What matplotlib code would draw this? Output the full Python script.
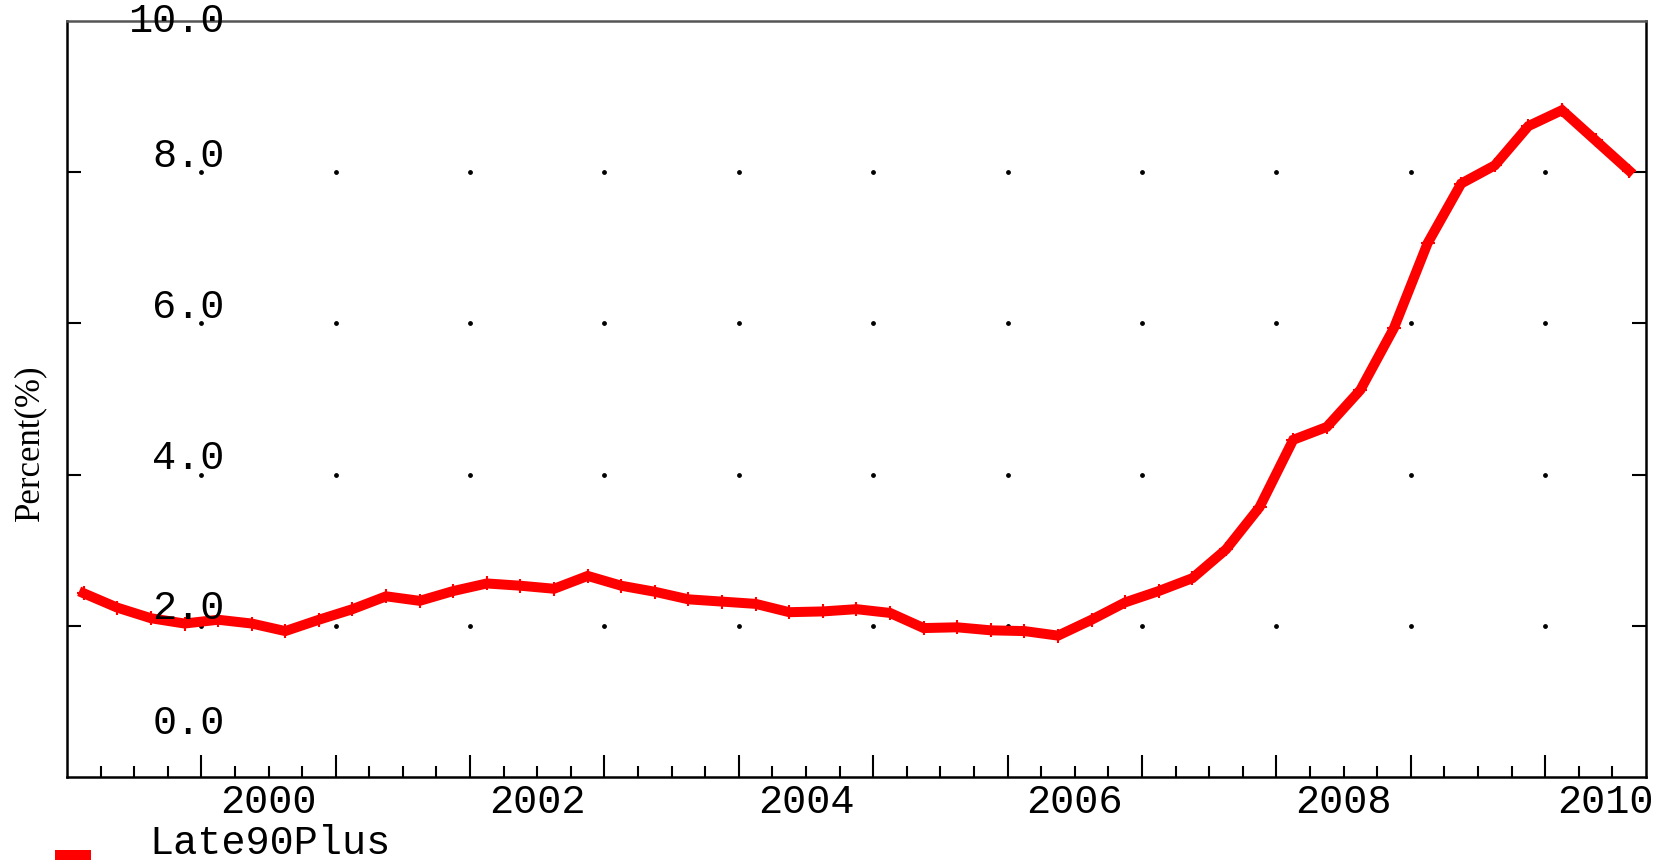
import numpy as np
import matplotlib
matplotlib.use("Agg")
import matplotlib.pyplot as plt
from matplotlib.lines import Line2D
import matplotlib.transforms as mtransforms

# quarterly series, 1999Q1 .. 2010Q3 (plotted at quarter midpoints)
start_year = 1999
late90 = [2.43, 2.24, 2.10, 2.03, 2.08, 2.03, 1.93, 2.08, 2.22, 2.39,
          2.33, 2.46, 2.56, 2.53, 2.49, 2.66, 2.53, 2.45, 2.35, 2.32,
          2.29, 2.18, 2.19, 2.22, 2.17, 1.97, 1.98, 1.94, 1.93, 1.87,
          2.08, 2.31, 2.46, 2.63, 3.01, 3.57, 4.46, 4.63, 5.12, 5.94,
          7.06, 7.85, 8.09, 8.61, 8.82, 8.42, 8.02]
series_name = "Late90Plus"
year_labels = [2000, 2002, 2004, 2006, 2008, 2010]
ytick_vals = [0.0, 2.0, 4.0, 6.0, 8.0, 10.0]
# baseline position of each y label (they sit a little above their ticks)
ylabel_base = [0.57, 2.09, 4.07, 6.07, 8.07, 9.85]

x = start_year + (np.arange(len(late90)) + 0.5) / 4.0

mono = "Liberation Mono"
fsize = 29

fig = plt.figure(figsize=(16.69, 8.64), dpi=100)
ax = fig.add_axes([0.0401, 0.1007, 0.9461, 0.875])

ax.plot(x, late90, color="red", lw=7.2, solid_joinstyle="miter",
        marker="+", ms=10, mew=1.5, zorder=3)

ax.set_xlim(1999.0, 2010.75)
ax.set_ylim(0, 10)

# ticks: years major, quarters minor, drawn inward at the bottom
ax.set_xticks(np.arange(2000, 2011))
ax.set_xticks(np.arange(1999.25, 2010.75, 0.25), minor=True)
ax.tick_params(axis="x", which="major", direction="in", length=16, width=1.5,
               labelbottom=False, top=False)
ax.tick_params(axis="x", which="minor", direction="in", length=8, width=1.5,
               top=False)
ax.set_yticks([2, 4, 6, 8])
ax.tick_params(axis="y", direction="in", length=10, width=1.5,
               left=True, right=True, labelleft=False)

for sp in ax.spines.values():
    sp.set_linewidth(1.8)
ax.spines["top"].set_color("#555555")

# dotted grid: a dot at each year / y tick crossing
gx, gy = np.meshgrid(np.arange(2000, 2011), [2, 4, 6, 8])
ax.scatter(gx.ravel(), gy.ravel(), s=6, color="black", zorder=2)

# y labels inside the plot
trans_y = mtransforms.blended_transform_factory(ax.transAxes, ax.transData)
for v, b in zip(ytick_vals, ylabel_base):
    ax.text(0.100, b, "%.1f" % v, transform=trans_y, ha="right",
            va="baseline", family=mono, fontsize=fsize)

# year labels centered in each labelled year
trans_x = mtransforms.blended_transform_factory(ax.transData, ax.transAxes)
for yr in year_labels:
    xp = yr + 0.5 if yr < 2010 else yr + 0.45
    ax.text(xp, -0.0476, str(yr), transform=trans_x, ha="center",
            va="baseline", family=mono, fontsize=fsize, clip_on=False)

fig.text(0.018, 0.488, "Percent(%)", rotation=90, ha="center", va="center",
         family="Liberation Serif", fontsize=25)

# legend
fig.add_artist(Line2D([55 / 1669, 91 / 1669], [1 - 855 / 864, 1 - 855 / 864],
                      color="red", lw=7.2, solid_capstyle="butt"))
fig.text(149 / 1669, 1 - 854 / 864, series_name, family=mono, fontsize=fsize,
         va="baseline", ha="left")

fig.savefig("out.png", dpi=100)
